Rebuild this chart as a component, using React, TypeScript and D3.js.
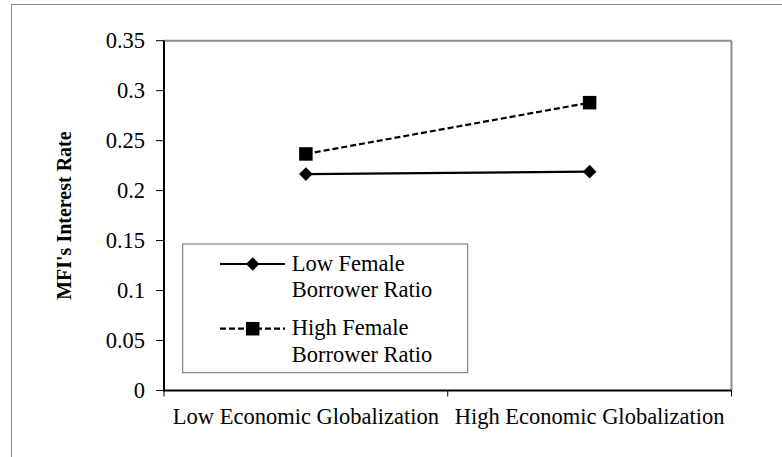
import * as d3 from "d3";

// values
const categories = ["Low Economic Globalization", "High Economic Globalization"];
const lowFemale = [0.2165, 0.219];
const highFemale = [0.2367, 0.288];
const yTicks = [0, 0.05, 0.1, 0.15, 0.2, 0.25, 0.3, 0.35];
const seriesNames = [
  ["Low Female", "Borrower Ratio"],
  ["High Female", "Borrower Ratio"],
];

const W = 782;
const H = 457;
const plot = { left: 164, right: 731.5, top: 40.7, bottom: 390.5 };
const FONT = "'Liberation Serif', 'Times New Roman', serif";

const Diamond = ({ x, y, r = 6.8 }: { x: number; y: number; r?: number }) => (
  <path d={`M${x},${y - r}L${x + r},${y}L${x},${y + r}L${x - r},${y}Z`} fill="#000" />
);

const Square = ({ x, y, s = 13.5 }: { x: number; y: number; s?: number }) => (
  <rect x={x - s / 2} y={y - s / 2} width={s} height={s} fill="#000" />
);

export default function App() {
  const x = d3
    .scaleBand<string>()
    .domain(categories)
    .range([plot.left, plot.right])
    .padding(0);
  const y = d3.scaleLinear().domain([0, 0.35]).range([plot.bottom, plot.top]);
  const cx = (c: string) => (x(c) as number) + x.bandwidth() / 2;

  const line = d3
    .line<number>()
    .x((_, i) => cx(categories[i]))
    .y((d) => y(d));

  const fmt = (v: number) => (v === 0 ? "0" : d3.format("")(+v.toFixed(2)));
  const bounds = [plot.left, ...categories.map((c) => (x(c) as number) + x.bandwidth())];

  const lg = { x: 182.7, y: 244, w: 285, h: 128.7 };

  return (
    <svg
      width={W}
      height={H}
      style={{ position: "absolute", left: 0, top: 0, display: "block", background: "#fff" }}
      fontFamily={FONT}
    >
      {/* outer chart frame */}
      <rect x={11.5} y={4.5} width={W} height={H} fill="none" stroke="#8c8c8c" strokeWidth={1} />

      {/* plot frame: grey top/right, black axes */}
      <line x1={plot.left} x2={plot.right} y1={plot.top} y2={plot.top} stroke="#8c8c8c" strokeWidth={2} />
      <line x1={plot.right} x2={plot.right} y1={plot.top} y2={plot.bottom} stroke="#8c8c8c" strokeWidth={2} />
      <line x1={plot.left} x2={plot.left} y1={plot.top} y2={plot.bottom + 1} stroke="#000" strokeWidth={2} />
      <line x1={plot.left} x2={plot.right} y1={plot.bottom} y2={plot.bottom} stroke="#000" strokeWidth={2} />

      {/* y ticks */}
      {yTicks.map((t) => (
        <g key={t}>
          <line x1={plot.left - 8} x2={plot.left} y1={y(t)} y2={y(t)} stroke="#000" strokeWidth={1} />
          <text x={145} y={y(t)} dy="0.34em" textAnchor="end" fontSize={22.5} fill="#000">
            {fmt(t)}
          </text>
        </g>
      ))}

      {/* x ticks + labels */}
      {bounds.map((b, i) => (
        <line key={i} x1={b} x2={b} y1={plot.bottom} y2={plot.bottom + 6} stroke="#000" strokeWidth={1} />
      ))}
      {categories.map((c) => (
        <text key={c} x={cx(c)} y={424} textAnchor="middle" fontSize={22.5} fill="#000">
          {c}
        </text>
      ))}

      {/* y title */}
      <text
        transform={`translate(71,${(plot.top + plot.bottom) / 2}) rotate(-90)`}
        textAnchor="middle"
        fontSize={20}
        fontWeight="bold"
        fill="#000"
      >
        MFI's Interest Rate
      </text>

      {/* series */}
      <path d={line(highFemale) as string} fill="none" stroke="#000" strokeWidth={2.2} strokeDasharray="6,3" />
      <path d={line(lowFemale) as string} fill="none" stroke="#000" strokeWidth={2.2} />
      {highFemale.map((v, i) => (
        <Square key={i} x={cx(categories[i])} y={y(v)} />
      ))}
      {lowFemale.map((v, i) => (
        <Diamond key={i} x={cx(categories[i])} y={y(v)} />
      ))}

      {/* legend */}
      <rect x={lg.x} y={lg.y} width={lg.w} height={lg.h} fill="#fff" stroke="#6e6e6e" strokeWidth={1} />
      {seriesNames.map((lines, i) => {
        const ly = i === 0 ? 264 : 328.7;
        return (
          <g key={i}>
            <line
              x1={220}
              x2={285}
              y1={ly}
              y2={ly}
              stroke="#000"
              strokeWidth={2.2}
              strokeDasharray={i === 0 ? undefined : "6,3"}
            />
            {i === 0 ? <Diamond x={252.7} y={ly} /> : <Square x={252.7} y={ly} />}
            {lines.map((t, j) => (
              <text key={j} x={291.7} y={ly + 6.7 + j * 26.3} fontSize={22.5} fill="#000">
                {t}
              </text>
            ))}
          </g>
        );
      })}
    </svg>
  );
}
